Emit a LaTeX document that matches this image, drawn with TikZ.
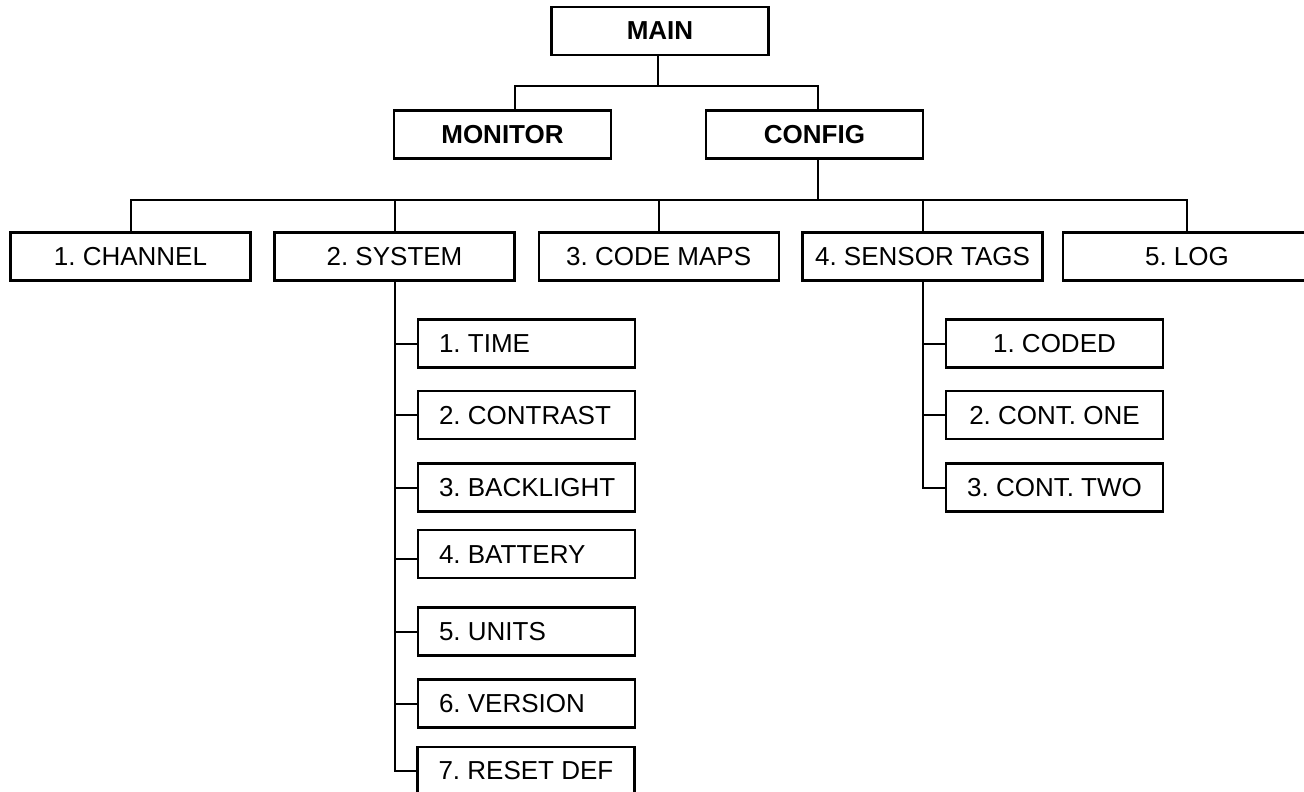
\documentclass[tikz,border=0pt]{standalone}
\usepackage{fontspec}
\setmainfont{Liberation Sans}
\frenchspacing
\newcommand\lefttext[1]{\makebox[175pt][l]{#1}}
\begin{document}
\begin{tikzpicture}[x=1pt,y=-1pt,
  box/.style={draw, line width=2.2pt, rectangle, inner sep=0pt,
    minimum height=48pt, font=\fontsize{26}{30}\selectfont\frenchspacing},
  topbox/.style={box, minimum width=217pt, font=\fontsize{26}{30}\selectfont\bfseries},
  midbox/.style={box, minimum width=240pt},
  leafbox/.style={box, minimum width=217pt},
  wire/.style={line width=2pt}]
\fill[white] (0,0) rectangle (1304,792);
\useasboundingbox (0,0) rectangle (1304,792);

% top level
\node[topbox] (main) at (660,31) {MAIN};
\node[topbox] (mon)  at (502.5,134.5) {MONITOR};
\node[topbox] (cfg)  at (814.5,134.5) {CONFIG};

% configuration menu
\node[midbox] (ch)  at (130.5,256.5) {1. CHANNEL};
\node[midbox] (sys) at (394.5,256.5) {2. SYSTEM};
\node[midbox] (map) at (658.7,256.5) {3. CODE MAPS};
\node[midbox] (sen) at (922.5,256.5) {4. SENSOR TAGS};
\node[midbox, minimum width=248pt] (log) at (1187,256.5) {5. LOG};

% system submenu (left-aligned labels)
\node[leafbox] (s1) at (526.5,343.5) {\lefttext{1. TIME}};
\node[leafbox] (s2) at (526.5,415.2) {\lefttext{2. CONTRAST}};
\node[leafbox] (s3) at (526.5,487.5) {\lefttext{3. BACKLIGHT}};
\node[leafbox] (s4) at (526.5,554.2) {\lefttext{4. BATTERY}};
\node[leafbox] (s5) at (526.5,631.5) {\lefttext{5. UNITS}};
\node[leafbox] (s6) at (526.5,703.5) {\lefttext{6. VERSION}};
\node[leafbox] (s7) at (526,770.7) {\lefttext{7. RESET DEF}};

% sensor tag submenu
\node[leafbox] (t1) at (1054.5,343.5) {1. CODED};
\node[leafbox] (t2) at (1054.5,415.2) {2. CONT. ONE};
\node[leafbox] (t3) at (1054.5,487.5) {3. CONT. TWO};

% junctions
\coordinate (j1) at (658,86);
\coordinate (j2) at (818,200);
\coordinate (b4) at ([yshift=-5pt]s4.west);

% connectors: top level
\draw[wire] (main.south -| j1) -- (j1);
\draw[wire] ([xshift=12.5pt]mon.north) |- (j1) -| ([xshift=3.5pt]cfg.north);

% connectors: configuration menu
\draw[wire] ([xshift=3.5pt]cfg.south) -- (j2);
\draw[wire] (ch.north) |- (j2) -| (log.north);
\draw[wire] (sys.north) -- (sys.north |- j2);
\draw[wire] (map.north) -- (map.north |- j2);
\draw[wire] (sen.north) -- (sen.north |- j2);

% connectors: system submenu
\draw[wire] (sys.south) |- (s7.west);
\foreach \n in {s1,s2,s3,s5,s6}
  \draw[wire] (sys.south |- \n.west) -- (\n.west);
\draw[wire] (sys.south |- b4) -- (b4);

% connectors: sensor tag submenu
\draw[wire] (sen.south) |- (t3.west);
\foreach \n in {t1,t2}
  \draw[wire] (sen.south |- \n.west) -- (\n.west);
\end{tikzpicture}
\end{document}
